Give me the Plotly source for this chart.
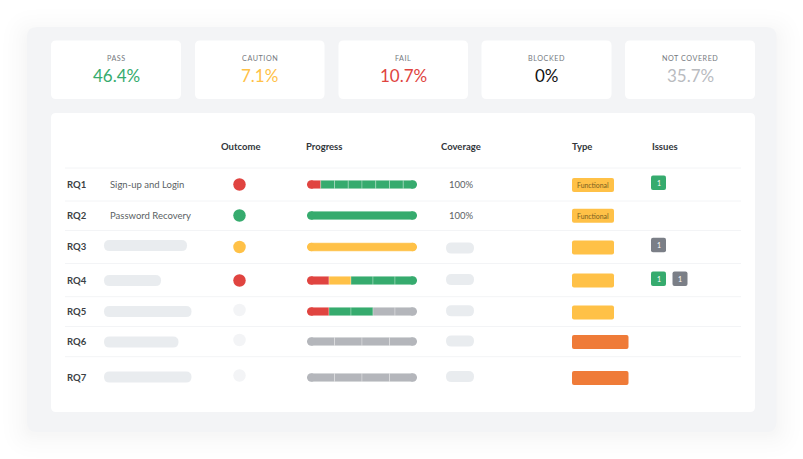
import plotly.graph_objects as go

# DATA
card_labels = ["PASS", "CAUTION", "FAIL", "BLOCKED", "NOT COVERED"]
card_values = ["46.4%", "7.1%", "10.7%", "0%", "35.7%"]
table_headers = ["Outcome", "Progress", "Coverage", "Type", "Issues"]
row_ids = ["RQ1", "RQ2", "RQ3", "RQ4", "RQ5", "RQ6", "RQ7"]
row_names = ["Sign-up and Login", "Password Recovery", None, None, None, None, None]
row_outcomes = ["fail", "pass", "caution", "fail", None, None, None]
row_progress = [
    ["fail"] + ["pass"] * 7,
    ["pass"],
    ["caution"],
    ["fail", "caution", "pass", "pass", "pass"],
    ["fail", "pass", "pass", "none", "none"],
    ["none"] * 4,
    ["none"] * 4,
]
row_coverage = ["100%", "100%", None, None, None, None, None]
row_types = ["Functional", "Functional", "", "", "", "", ""]
row_issues = [["pass"], [], ["none2"], ["pass", "none2"], [], [], []]

# CONFIG
COLORS = {"pass": "#36ab6e", "caution": "#ffc147", "fail": "#e04440", "none": "#b4b6bb", "none2": "#7b7f87"}
CARD_COLORS = ["#36ab6e", "#ffc147", "#e04440", "#111111", "#b9bbbf"]
FONT = "Lato"
CARD_X = [(51, 181), (195, 324.5), (338.5, 468), (481.5, 611.5), (625, 755)]
HEADER_X = [220.5, 306, 441, 572, 651.5]
LINE_Y = [168, 201, 230.5, 263.5, 296.7, 326.5, 356.7]
TEXT_Y = [184.5, 215.5, 247, 280.5, 311.5, 341.5, 377.5]
DOT_Y = [184.5, 215.5, 247, 280.5, 310, 340, 375.5]
NAME_PILL = [None, None, (187, 245.5), (161, 280.5), (191.5, 311.5), (178.5, 342), (191.5, 377)]
COVER_PILL_Y = [None, None, 248, 279.5, 310.7, 341, 376.5]
TYPE_Y = [185, 215.8, 247.5, 280.5, 312.5, 342, 378]
ISSUE_Y = [182.7, None, 245, 278.8, None, None, None]
SHADOW_GROW = [24, 19, 15, 11.5, 8.5, 6, 4, 2]
PROGRESS_L, PROGRESS_R = 307, 417
CAP = 3.8  # end cap radius in axis units


def rounded(x0, y0, x1, y1, r):
    return (f"M{x0+r},{y0} L{x1-r},{y0} Q{x1},{y0} {x1},{y0+r} L{x1},{y1-r} Q{x1},{y1} {x1-r},{y1} "
            f"L{x0+r},{y1} Q{x0},{y1} {x0},{y1-r} L{x0},{y0+r} Q{x0},{y0} {x0+r},{y0} Z")


def box(x0, y0, x1, y1, r, color, opacity=1):
    return dict(type="path", path=rounded(x0, y0, x1, y1, r), xref="x", yref="y", layer="below",
                fillcolor=color, opacity=opacity, line_width=0)


def label(x, y, text, size, color, anchor="left", weight=400):
    # annotations carry about 2px of padding, take it back on left aligned text
    if anchor == "left":
        x -= 2
    return dict(x=x, y=y - 0.1, text=text, xref="x", yref="y", showarrow=False, xanchor=anchor, yanchor="middle",
                font=dict(family=FONT, size=size, color=color, weight=weight))


shapes = []
annotations = []

# soft shadow then outer panel
for grow in SHADOW_GROW:
    shapes.append(box(27 - grow, 27 - grow + 6, 776.5 + grow, 432 + grow + 2, 10 + grow, "#000000", 0.0045))
shapes.append(box(27, 27, 776.5, 432, 10, "#f3f4f6"))

# summary cards
for (x0, x1), name, value, color in zip(CARD_X, card_labels, card_values, CARD_COLORS):
    shapes.append(box(x0, 40.5, x1, 99, 5, "#ffffff"))
    annotations.append(label((x0 + x1) / 2, 59, name, 7.2, "#74787e", "center"))
    annotations.append(label((x0 + x1) / 2, 75.7, value, 17, color, "center"))

# table
shapes.append(box(51, 113, 755, 412, 5, "#ffffff"))
for text, x in zip(table_headers, HEADER_X):
    annotations.append(label(x, 147, text, 9.5, "#32363b", weight=700))
for y in LINE_Y:
    shapes.append(dict(type="line", x0=65, x1=741, y0=y, y1=y, xref="x", yref="y", layer="below",
                       line=dict(color="#f3f4f6", width=1)))

for i, rq in enumerate(row_ids):
    annotations.append(label(67, TEXT_Y[i], rq, 9.5, "#3b3f44", weight=700))
    if row_names[i]:
        annotations.append(label(110, TEXT_Y[i], row_names[i], 9.5, "#5b5f64"))
    else:
        x1, yc = NAME_PILL[i]
        shapes.append(box(104, yc - 5.5, x1, yc + 5.5, 5.5, "#e9ecef"))
    if row_coverage[i]:
        annotations.append(label(461, TEXT_Y[i], row_coverage[i], 9.5, "#5b5f64", "center"))
    else:
        yc = COVER_PILL_Y[i]
        shapes.append(box(446, yc - 5.5, 474, yc + 5.5, 5.5, "#e9ecef"))
    type_color = "#ef7b38" if i >= 5 else "#ffc147"
    x1 = 628.5 if i >= 5 else 614
    shapes.append(box(572, TYPE_Y[i] - 7, x1, TYPE_Y[i] + 7, 2, type_color))
    if row_types[i]:
        annotations.append(label((572 + x1) / 2, TYPE_Y[i], row_types[i], 6.9, "#7a5f1f", "center"))
    for j, status in enumerate(row_issues[i]):
        x0 = 651 + j * 21.5
        shapes.append(box(x0, ISSUE_Y[i] - 7.2, x0 + 15, ISSUE_Y[i] + 7.2, 2, COLORS[status]))
        annotations.append(label(x0 + 7.5, ISSUE_Y[i], "1", 7, "#ffffff", "center"))

fig = go.Figure()

# outcome dots
fig.add_trace(go.Scatter(
    x=[239.5] * len(row_ids), y=DOT_Y, mode="markers", xaxis="x", yaxis="y", hoverinfo="skip",
    marker=dict(size=12.5, color=[COLORS.get(o, "#f3f4f6") for o in row_outcomes]),
))

# progress bars, equal segments, clipped a little at each end for the round caps
bar_x, bar_base, bar_y, bar_color = [], [], [], []
cap_x, cap_y, cap_color = [], [], []
for i, segments in enumerate(row_progress):
    step = 100 / len(segments)
    for j, status in enumerate(segments):
        left = max(j * step, CAP)
        right = min((j + 1) * step, 100 - CAP)
        bar_base.append(left)
        bar_x.append(right - left)
        bar_y.append(TEXT_Y[i])
        bar_color.append(COLORS[status])
    cap_x += [CAP, 100 - CAP]
    cap_y += [TEXT_Y[i], TEXT_Y[i]]
    cap_color += [COLORS[segments[0]], COLORS[segments[-1]]]

fig.add_trace(go.Scatter(
    x=cap_x, y=cap_y, mode="markers", xaxis="x2", yaxis="y", hoverinfo="skip",
    marker=dict(size=8.4, color=cap_color),
))
fig.add_trace(go.Bar(
    x=bar_x, base=bar_base, y=bar_y, orientation="h", width=8.4, xaxis="x2", yaxis="y", hoverinfo="skip",
    marker=dict(color=bar_color, line=dict(color="rgba(255,255,255,0.55)", width=0.5)),
))

hidden = dict(visible=False, fixedrange=True)
fig.update_layout(
    width=803, height=459, margin=dict(l=0, r=0, t=0, b=0), showlegend=False,
    paper_bgcolor="#ffffff", plot_bgcolor="rgba(0,0,0,0)", barmode="overlay",
    xaxis=dict(range=[0, 803], domain=[0, 1], **hidden),
    xaxis2=dict(range=[0, 100], domain=[PROGRESS_L / 803, PROGRESS_R / 803], anchor="y", **hidden),
    yaxis=dict(range=[459, 0], domain=[0, 1], **hidden),
    shapes=shapes, annotations=annotations,
)

# card captions are letter spaced in the original
spacing = """
document.body.style.margin='0';
document.querySelectorAll('.annotation-text').forEach(function (t) {
  if (/^[A-Z ]+$/.test(t.textContent)) {
    t.style.letterSpacing = '0.55px';
  }
});
"""
fig.write_html("out.html", config={"displayModeBar": False}, post_script=spacing)
